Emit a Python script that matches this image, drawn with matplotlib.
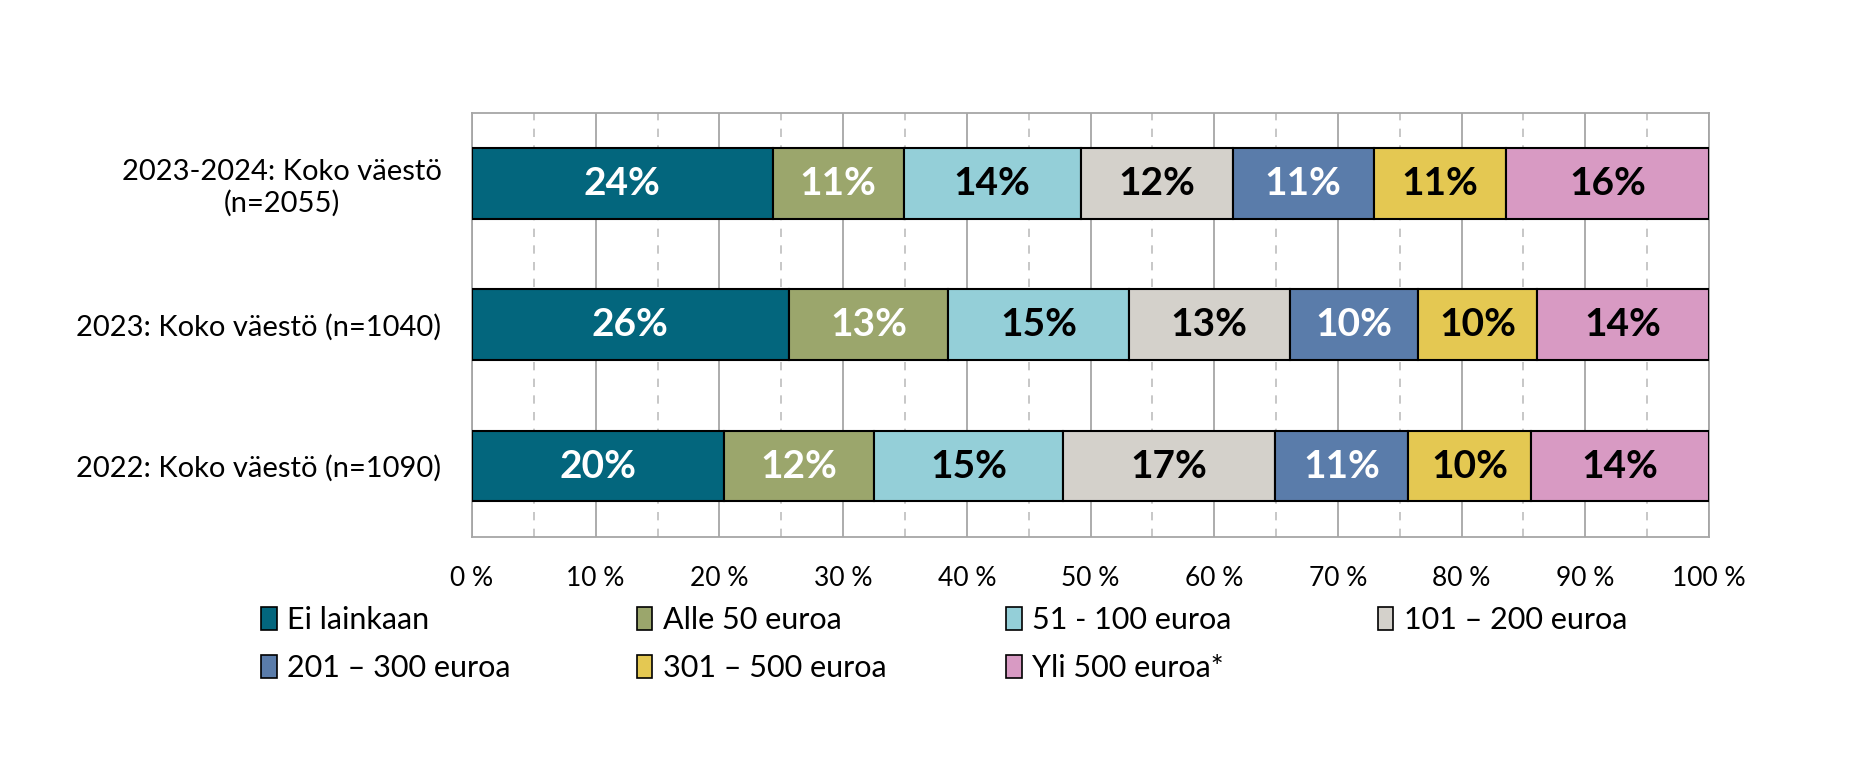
import numpy as np
import matplotlib.pyplot as plt
from matplotlib.patches import Patch
from matplotlib.ticker import MultipleLocator, FuncFormatter

plt.rcParams["font.family"] = ["Lato", "DejaVu Sans"]

groups = ["2023-2024: Koko väestö\n(n=2055)", "2023: Koko väestö (n=1040)", "2022: Koko väestö (n=1090)"]
categories = ["Ei lainkaan", "Alle 50 euroa", "51 - 100 euroa", "101 – 200 euroa",
              "201 – 300 euroa", "301 – 500 euroa", "Yli 500 euroa*"]

ei_lainkaan = [24.3, 25.6, 20.4]
alle_50 = [10.6, 12.9, 12.1]
e51_100 = [14.3, 14.6, 15.3]
e101_200 = [12.3, 13.0, 17.1]
e201_300 = [11.4, 10.4, 10.8]
e301_500 = [10.7, 9.6, 9.9]
yli_500 = [16.4, 13.9, 14.4]

series = [ei_lainkaan, alle_50, e51_100, e101_200, e201_300, e301_500, yli_500]
colors = ["#03667d", "#9ba66c", "#94cfd8", "#d4d1cb", "#5a7caa", "#e4c852", "#d89ac3"]
text_colors = ["white", "white", "black", "black", "white", "black", "black"]

fig = plt.figure(figsize=(18.67, 7.84), dpi=100)
ax = fig.add_axes([0.2528, 0.3154, 0.6626, 0.5409])

y = np.arange(len(groups))
left = np.zeros(len(groups))
for vals, col, tcol in zip(series, colors, text_colors):
    bars = ax.barh(y, vals, left=left, height=0.5, color=col, edgecolor="black", linewidth=1.5, zorder=3)
    ax.bar_label(bars, labels=[f"{v:.0f}%" for v in vals], label_type="center",
                 color=tcol, fontsize=28, fontweight="bold")
    left += np.array(vals)

ax.set_xlim(0, 100)
ax.set_ylim(-0.5, len(groups) - 0.5)
ax.invert_yaxis()
ax.set_yticks(y)
ax.set_yticklabels(groups, fontsize=21, multialignment="center")
ax.xaxis.set_major_locator(MultipleLocator(10))
ax.xaxis.set_minor_locator(MultipleLocator(5))
ax.xaxis.set_major_formatter(FuncFormatter(lambda v, p: f"{v:.0f} %"))
ax.tick_params(axis="x", which="both", length=0, labelsize=19, pad=21)
ax.tick_params(axis="y", length=0, pad=22)
ax.grid(axis="x", which="major", color="#a6a6a6", linewidth=1.3, zorder=0)
ax.grid(axis="x", which="minor", color="#bdbdbd", linewidth=1.2, linestyle=(0, (5, 5)), zorder=0)
ax.set_axisbelow(True)
for s in ax.spines.values():
    s.set_color("#a6a6a6")
    s.set_linewidth(1.3)

# legend: 4 columns, 2 rows
col_x = [0.140, 0.341, 0.539, 0.738]
row_y = [0.209, 0.148]
for i, (cat, col) in enumerate(zip(categories, colors)):
    fig.legend(handles=[Patch(facecolor=col, edgecolor="black", linewidth=1.2)], labels=[cat],
               loc="center left", bbox_to_anchor=(col_x[i % 4], row_y[i // 4]),
               frameon=False, fontsize=22, handlelength=0.5, handleheight=0.8,
               handletextpad=0.35, borderpad=0, borderaxespad=0)

fig.savefig("out.png", dpi=100)
